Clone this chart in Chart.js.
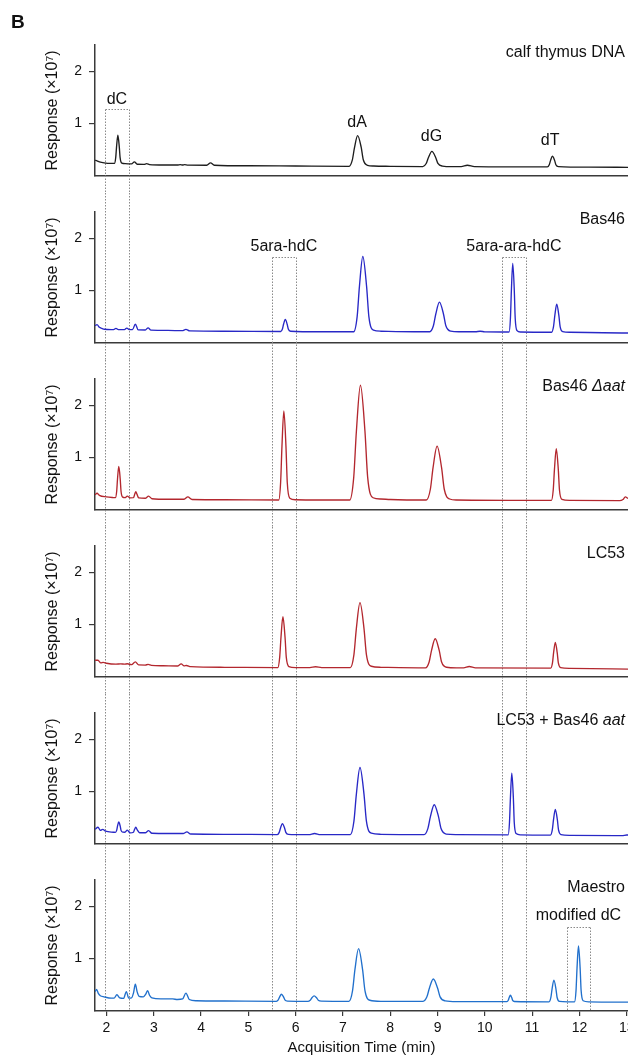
<!DOCTYPE html>
<html><head><meta charset="utf-8">
<script src="https://cdn.jsdelivr.net/npm/chart.js@4.4.1/dist/chart.umd.min.js"></script>
<style>
html,body{margin:0;padding:0;background:#fff;}
body{width:628px;height:1062px;overflow:hidden;position:relative;}
canvas{position:absolute;left:0;}
</style></head><body>
<script>
// ---------- data ----------
const xTickValues = [2,3,4,5,6,7,8,9,10,11,12,13];
const yTickValues = [1,2];
const panelNames = ['calf thymus DNA','Bas46','Bas46 \u0394aat','LC53','LC53 + Bas46 aat','Maestro'];
const italicParts = ['','','\u0394aat','','aat',''];
const yTitle = 'Response (\u00d710\u2077)';
const xTitle = 'Acquisition Time (min)';

const calfThymus = [[1.76,0.30],[1.8,0.29],[1.85,0.27],[1.95,0.25],[2.1,0.24],[2.168,0.24],[2.195,0.35],[2.213,0.56],[2.24,0.78],[2.27,0.56],[2.288,0.35],[2.324,0.245],[2.4,0.235],[2.53,0.23],[2.59,0.27],[2.65,0.225],[2.79,0.222],[2.85,0.235],[2.91,0.218],[3.2,0.21],[3.5,0.21],[3.56,0.218],[3.61,0.21],[3.65,0.217],[3.72,0.207],[4.12,0.205],[4.2,0.25],[4.28,0.205],[5.0,0.195],[6.0,0.19],[7.13,0.185],[7.197,0.302],[7.243,0.536],[7.31,0.77],[7.385,0.55],[7.43,0.31],[7.52,0.205],[7.65,0.19],[8.0,0.185],[8.688,0.18],[8.76,0.238],[8.808,0.354],[8.88,0.47],[8.96,0.354],[9.008,0.24],[9.104,0.19],[9.3,0.18],[9.5,0.18],[9.63,0.205],[9.78,0.18],[10.5,0.175],[11.322,0.175],[11.362,0.216],[11.39,0.298],[11.43,0.38],[11.475,0.298],[11.502,0.216],[11.556,0.18],[12.2,0.17],[13.1,0.165]];

const bas46 = [[1.76,0.33],[1.8,0.35],[1.85,0.30],[1.9,0.28],[1.96,0.262],[2.1,0.255],[2.15,0.256],[2.2,0.28],[2.25,0.256],[2.38,0.255],[2.43,0.285],[2.48,0.255],[2.55,0.255],[2.61,0.36],[2.67,0.25],[2.82,0.248],[2.88,0.29],[2.94,0.245],[3.3,0.24],[3.6,0.235],[3.68,0.26],[3.76,0.23],[4.5,0.225],[5.684,0.22],[5.72,0.266],[5.744,0.358],[5.78,0.45],[5.82,0.358],[5.844,0.266],[5.892,0.225],[6.5,0.215],[7.228,0.215],[7.30,0.502],[7.348,1.076],[7.42,1.65],[7.50,1.076],[7.548,0.502],[7.644,0.244],[7.8,0.225],[8.5,0.215],[8.836,0.215],[8.912,0.328],[8.963,0.554],[9.04,0.78],[9.125,0.554],[9.176,0.328],[9.278,0.226],[9.45,0.215],[9.8,0.215],[9.9,0.225],[10.0,0.213],[10.512,0.21],[10.541,0.472],[10.561,0.996],[10.59,1.52],[10.623,0.996],[10.642,0.472],[10.681,0.236],[10.75,0.21],[11.412,0.205],[11.452,0.312],[11.48,0.526],[11.52,0.74],[11.565,0.526],[11.592,0.312],[11.646,0.216],[11.8,0.205],[12.5,0.195],[13.1,0.19]];

const bas46Daat = [[1.76,0.29],[1.8,0.32],[1.85,0.28],[2.0,0.25],[2.15,0.237],[2.188,0.235],[2.215,0.354],[2.233,0.592],[2.26,0.83],[2.29,0.592],[2.308,0.354],[2.344,0.245],[2.39,0.235],[2.44,0.265],[2.5,0.232],[2.57,0.235],[2.6,0.31],[2.62,0.35],[2.645,0.30],[2.68,0.232],[2.82,0.225],[2.89,0.265],[2.96,0.215],[3.3,0.205],[3.64,0.205],[3.72,0.25],[3.81,0.2],[4.5,0.195],[5.642,0.19],[5.682,0.53],[5.71,1.21],[5.75,1.89],[5.795,1.21],[5.822,0.53],[5.876,0.224],[6.0,0.195],[6.5,0.19],[7.142,0.19],[7.228,0.628],[7.284,1.504],[7.37,2.38],[7.465,1.504],[7.522,0.628],[7.636,0.234],[7.8,0.21],[8.0,0.2],[8.762,0.19],[8.848,0.396],[8.905,0.808],[8.99,1.22],[9.085,0.808],[9.142,0.396],[9.256,0.21],[9.4,0.19],[10.5,0.185],[11.408,0.185],[11.446,0.382],[11.472,0.776],[11.51,1.17],[11.553,0.776],[11.578,0.382],[11.629,0.205],[11.8,0.185],[12.85,0.18],[12.92,0.2],[12.97,0.25],[13.03,0.22],[13.1,0.21]];

const lc53 = [[1.76,0.32],[1.82,0.32],[1.88,0.27],[1.93,0.28],[2.0,0.262],[2.2,0.245],[2.3,0.25],[2.38,0.245],[2.44,0.252],[2.53,0.235],[2.61,0.29],[2.68,0.23],[2.82,0.228],[2.88,0.24],[2.95,0.222],[3.2,0.215],[3.5,0.21],[3.58,0.25],[3.64,0.212],[3.69,0.22],[3.78,0.197],[4.5,0.185],[5.622,0.18],[5.662,0.374],[5.69,0.762],[5.73,1.15],[5.775,0.762],[5.802,0.374],[5.856,0.2],[6.0,0.18],[6.3,0.18],[6.42,0.195],[6.55,0.18],[7.156,0.18],[7.232,0.428],[7.283,0.924],[7.36,1.42],[7.445,0.924],[7.496,0.428],[7.598,0.205],[7.8,0.185],[8.746,0.175],[8.822,0.286],[8.873,0.508],[8.95,0.73],[9.035,0.508],[9.086,0.286],[9.188,0.186],[9.4,0.175],[9.55,0.175],[9.67,0.2],[9.8,0.175],[11.394,0.17],[11.43,0.268],[11.454,0.464],[11.49,0.66],[11.53,0.464],[11.554,0.268],[11.602,0.18],[11.8,0.165],[13.1,0.15]];

const lc53Aat = [[1.76,0.28],[1.82,0.32],[1.87,0.26],[1.92,0.28],[1.98,0.245],[2.15,0.225],[2.188,0.222],[2.215,0.26],[2.233,0.34],[2.26,0.42],[2.29,0.34],[2.308,0.26],[2.344,0.227],[2.39,0.225],[2.44,0.265],[2.5,0.212],[2.57,0.225],[2.59,0.27],[2.62,0.32],[2.65,0.27],[2.7,0.215],[2.82,0.215],[2.89,0.255],[2.96,0.205],[3.3,0.2],[3.62,0.2],[3.7,0.23],[3.78,0.19],[4.5,0.185],[5.612,0.18],[5.652,0.222],[5.68,0.306],[5.72,0.39],[5.765,0.306],[5.792,0.222],[5.846,0.184],[6.0,0.18],[6.28,0.18],[6.40,0.2],[6.52,0.18],[7.156,0.18],[7.232,0.436],[7.283,0.948],[7.36,1.46],[7.445,0.948],[7.496,0.436],[7.598,0.206],[7.8,0.185],[8.714,0.18],[8.795,0.294],[8.849,0.522],[8.93,0.75],[9.02,0.522],[9.074,0.294],[9.182,0.19],[9.4,0.18],[10.492,0.175],[10.521,0.41],[10.541,0.88],[10.57,1.35],[10.603,0.88],[10.622,0.41],[10.661,0.2],[10.75,0.175],[11.388,0.17],[11.426,0.268],[11.452,0.464],[11.49,0.66],[11.533,0.464],[11.558,0.268],[11.609,0.18],[11.8,0.165],[12.9,0.16],[13.0,0.172],[13.1,0.165]];

const maestro = [[1.76,0.37],[1.79,0.41],[1.83,0.33],[1.87,0.29],[1.95,0.27],[2.1,0.245],[2.16,0.245],[2.22,0.31],[2.28,0.25],[2.36,0.24],[2.42,0.37],[2.47,0.245],[2.53,0.25],[2.57,0.34],[2.61,0.51],[2.65,0.36],[2.69,0.28],[2.78,0.27],[2.83,0.32],[2.87,0.39],[2.91,0.30],[2.96,0.25],[3.15,0.23],[3.4,0.23],[3.5,0.22],[3.61,0.23],[3.68,0.34],[3.75,0.22],[3.9,0.195],[4.5,0.19],[5.592,0.185],[5.632,0.212],[5.66,0.266],[5.70,0.32],[5.745,0.266],[5.772,0.212],[5.826,0.188],[6.0,0.185],[6.258,0.185],[6.307,0.206],[6.34,0.248],[6.39,0.29],[6.445,0.248],[6.478,0.206],[6.544,0.188],[6.9,0.185],[7.126,0.185],[7.202,0.386],[7.253,0.788],[7.33,1.19],[7.415,0.788],[7.466,0.386],[7.568,0.205],[7.8,0.185],[8.694,0.185],[8.775,0.27],[8.829,0.44],[8.91,0.61],[9.0,0.44],[9.054,0.27],[9.162,0.194],[9.4,0.18],[10.468,0.18],[10.495,0.204],[10.513,0.252],[10.54,0.30],[10.57,0.252],[10.588,0.204],[10.624,0.182],[11.358,0.175],[11.396,0.258],[11.422,0.424],[11.46,0.59],[11.503,0.424],[11.528,0.258],[11.579,0.183],[11.75,0.175],[11.896,0.175],[11.928,0.388],[11.949,0.814],[11.98,1.24],[12.015,0.814],[12.036,0.388],[12.078,0.196],[12.2,0.175],[13.1,0.17]];

const traces = [calfThymus, bas46, bas46Daat, lc53, lc53Aat, maestro];

// peak labels (top panel), in data units
const peakLabels = [
  {text:'dA', x:7.30, y:1.02},
  {text:'dG', x:8.87, y:0.75},
  {text:'dT', x:11.38, y:0.67}
];
// dotted boxes: panel where box is drawn, x-range, top, label
const boxes = [
  {panel:0, x0:1.97, x1:2.47, top:1.27, label:'dC', labelY:1.46},
  {panel:1, x0:5.50, x1:6.00, top:1.64, label:'5ara-hdC', labelY:1.84},
  {panel:1, x0:10.37, x1:10.86, top:1.64, label:'5ara-ara-hdC', labelY:1.84},
  {panel:5, x0:11.73, x1:12.23, top:1.61, label:'modified dC', labelY:1.83}
];

// ---------- style / layout ----------
const colors = ['#1e1e1e','#2828c6','#b3272e','#b3272e','#2828c6','#2170cc'];
const FONT = "'Liberation Sans', Arial, Helvetica, sans-serif";
const AXIS = '#3a3a3a';
const canvasTops = [0,193,360,527,694,861];
const canvasHeights = [193,167,167,167,167,201];
const areaTops = [45,19,19,19,19,19];
const PLOT_H = 131;
const LAST = 5;

const overlay = {
  id:'overlay',
  beforeDatasetsDraw(chart){
    const p = chart.options.plugins.overlay.panel;
    const {ctx, chartArea} = chart;
    const xs = chart.scales.x, ys = chart.scales.y;
    ctx.save();
    ctx.strokeStyle = '#8a8a8a';
    ctx.lineWidth = 1;
    ctx.setLineDash([1.5,1.5]);
    boxes.forEach(b=>{
      if (p < b.panel) return;
      const y0 = (p === b.panel) ? Math.round(ys.getPixelForValue(b.top)) + 0.5 : 0;
      const y1 = (p === LAST) ? chartArea.bottom : chart.height;
      const px0 = Math.round(xs.getPixelForValue(b.x0)) + 0.5;
      const px1 = Math.round(xs.getPixelForValue(b.x1)) + 0.5;
      ctx.beginPath();
      ctx.moveTo(px0,y0); ctx.lineTo(px0,y1);
      ctx.moveTo(px1,y0); ctx.lineTo(px1,y1);
      if (p === b.panel){ ctx.moveTo(px0,y0); ctx.lineTo(px1,y0); }
      ctx.stroke();
    });
    ctx.restore();
  },
  afterDatasetsDraw(chart){
    const p = chart.options.plugins.overlay.panel;
    const {ctx, chartArea} = chart;
    const xs = chart.scales.x, ys = chart.scales.y;
    ctx.save();
    ctx.fillStyle = '#111';
    ctx.textBaseline = 'middle';
    const name = panelNames[p], ital = italicParts[p];
    const ny = ys.getPixelForValue(2.36);
    const right = chartArea.right - 3;
    ctx.textAlign = 'right';
    if (ital){
      ctx.font = 'italic 16px ' + FONT;
      const w = ctx.measureText(ital).width;
      ctx.fillText(ital, right, ny);
      ctx.font = '16px ' + FONT;
      ctx.fillText(name.slice(0, name.length - ital.length), right - w, ny);
    } else {
      ctx.font = '16px ' + FONT;
      ctx.fillText(name, right, ny);
    }
    ctx.textAlign = 'center';
    ctx.font = '16px ' + FONT;
    boxes.forEach(b=>{
      if (b.panel !== p) return;
      ctx.fillText(b.label, xs.getPixelForValue((b.x0+b.x1)/2), ys.getPixelForValue(b.labelY));
    });
    if (p === 0){
      peakLabels.forEach(l=>ctx.fillText(l.text, xs.getPixelForValue(l.x), ys.getPixelForValue(l.y)));
      ctx.textAlign = 'left';
      ctx.textBaseline = 'alphabetic';
      ctx.font = 'bold 19px ' + FONT;
      ctx.fillText('B', 11, 28);
    }
    ctx.restore();
  }
};

for (let p = 0; p < 6; p++){
  const cv = document.createElement('canvas');
  cv.width = 640; cv.height = canvasHeights[p];
  cv.style.width = '640px'; cv.style.height = canvasHeights[p] + 'px';
  cv.style.top = canvasTops[p] + 'px';
  document.body.appendChild(cv);
  const xAxisH = canvasHeights[p] - areaTops[p] - PLOT_H;
  const isLast = p === LAST;
  new Chart(cv.getContext('2d'), {
    type:'line',
    data:{datasets:[{
      data: traces[p].map(([x,y])=>({x,y})),
      borderColor: colors[p], borderWidth:1.35, pointRadius:0,
      cubicInterpolationMode:'monotone', fill:false
    }]},
    plugins:[overlay],
    options:{
      responsive:false, animation:false, devicePixelRatio:1,
      layout:{padding:{left:0, right:12, top:areaTops[p], bottom:0}},
      plugins:{legend:{display:false}, tooltip:{enabled:false}, overlay:{panel:p}},
      scales:{
        x:{
          type:'linear', min:1.757, max:13.027,
          afterBuildTicks(s){ s.ticks = xTickValues.map(v=>({value:v})); },
          afterFit(s){ s.height = xAxisH; },
          grid:{display:isLast, drawOnChartArea:false, drawTicks:true, tickLength:5, color:AXIS, lineWidth:1.2},
          border:{display:true, color:AXIS, width:1.5},
          ticks:{display:isLast, color:'#111', font:{family:FONT, size:14}, padding:4, maxRotation:0, autoSkip:false},
          title:{display:isLast, text:xTitle, color:'#111', font:{family:FONT, size:15}, padding:{top:0,bottom:5}}
        },
        y:{
          type:'linear', min:0, max:2.5,
          afterBuildTicks(s){ s.ticks = yTickValues.map(v=>({value:v})); },
          afterFit(s){ s.width = 95; },
          grid:{drawOnChartArea:false, drawTicks:true, tickLength:6, color:AXIS, lineWidth:1.2},
          border:{display:true, color:AXIS, width:1.5},
          ticks:{color:'#111', font:{family:FONT, size:14}, padding:7},
          title:{display:true, text:yTitle, color:'#111', font:{family:FONT, size:16}, padding:{top:43,bottom:0}}
        }
      }
    }
  });
}
</script>
</body></html>
